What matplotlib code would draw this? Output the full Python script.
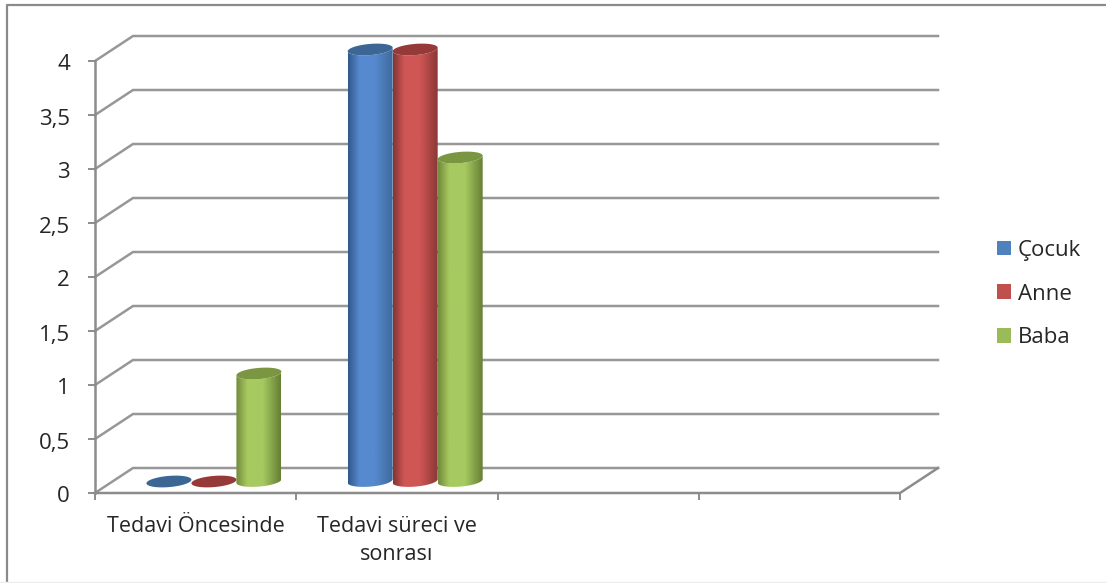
import numpy as np
import matplotlib
matplotlib.use("Agg")
import matplotlib.pyplot as plt
from matplotlib.colors import LinearSegmentedColormap
from matplotlib.lines import Line2D
from matplotlib.patches import Patch, Polygon
from matplotlib.transforms import IdentityTransform, ScaledTranslation

categories = ["Tedavi Öncesinde", "Tedavi süreci ve\nsonrası"]
series_names = ["Çocuk", "Anne", "Baba"]
cocuk = [0, 4]
anne = [0, 4]
baba = [1, 3]
y_ticks = [0, 0.5, 1, 1.5, 2, 2.5, 3, 3.5, 4]
y_labels = ["0", "0,5", "1", "1,5", "2", "2,5", "3", "3,5", "4"]
n_slots = 4

W, H = 1106, 583
FONT = "Open Sans"
TXT = "#262626"
GRID = "#979797"
AX = "#8c8c8c"
fig = plt.figure(figsize=(W / 100, H / 100), dpi=100, facecolor="white")
L, R, T, B = 95, 900, 61, 493
ax = fig.add_axes([L / W, 1 - B / H, (R - L) / W, (B - T) / H])
ax.patch.set_visible(False)
ax.set_xlim(0, n_slots)
ax.set_ylim(0, 4)

DX, DY = 38, 25   # depth of the 3-D box, pixels
identity = IdentityTransform()

def px(x, y):
    return ax.transData.transform((x, y))

# outer frame
fig.add_artist(Line2D([7 / W, 7 / W, 1], [0, 1 - 4.5 / H, 1 - 4.5 / H],
                      transform=fig.transFigure, color="#8a8a8a", lw=1.6))
fig.add_artist(Line2D([0, 1], [0.8 / H, 0.8 / H], transform=fig.transFigure,
                      color="#ececec", lw=1.0))

# wall grid
for v in y_ticks:
    x0, y0 = px(0, v)
    x1, _ = px(n_slots, v)
    ax.add_line(Line2D([x0, x0 + DX, x1 + DX], [y0, y0 + DY, y0 + DY], transform=identity,
                       color=GRID, lw=1.8, clip_on=False, zorder=1, solid_joinstyle="miter"))
x0, y0 = px(0, 0)
x1, y1 = px(n_slots, 0)
ax.add_line(Line2D([x0, x1, x1 + DX], [y0, y1, y1 + DY], transform=identity,
                   color=AX, lw=1.8, clip_on=False, zorder=1.5))

# cylinders
palette = [
    ("#30598a", "#5689cf", "#3f6a9a", "#3c6795"),
    ("#843432", "#cf5654", "#8a3836", "#953a38"),
    ("#728a3c", "#a6ca60", "#667f34", "#7a9640"),
]
series = [cocuk, anne, baba]
bar_w = 0.2236
A = (px(bar_w, 0)[0] - px(0, 0)[0]) / 2
b, k = 5.6, 1.8
t_low = np.linspace(np.pi, 2 * np.pi, 40)
t_all = np.linspace(0, 2 * np.pi, 80)

def arc(cx, cy, t):
    return np.column_stack([cx + A * np.cos(t), cy + b * np.sin(t) + k * np.cos(t)])

for i, (vals, pal) in enumerate(zip(series, palette)):
    cmap = LinearSegmentedColormap.from_list(
        f"c{i}", [(0, pal[0]), (0.25, pal[1]), (0.6, pal[1]), (1, pal[2])])
    for j, v in enumerate(vals):
        xc = j + 0.5 + (i - 1) * bar_w
        fx, fy0 = px(xc, 0)
        _, fy1 = px(xc, v)
        cx = fx + DX / 2 - 0.7
        cy0, cy1 = fy0 + 12, fy1 + 11.5
        z = 3 + i + j * 5
        if v > 0:
            outline = np.vstack([arc(cx, cy0, t_low), arc(cx, cy1, t_low[::-1])])
            clip = Polygon(outline, closed=True, transform=identity, fc="none", ec="none")
            ax.add_patch(clip)
            im = ax.imshow(np.linspace(0, 1, 128)[None, :], cmap=cmap, aspect="auto",
                           extent=(cx - A, cx + A, cy0 - b - 3, cy1 + b + 3),
                           transform=identity, zorder=z, interpolation="bilinear")
            im.set_clip_box(fig.bbox)
            im.set_clip_path(clip)
        ax.add_patch(Polygon(arc(cx, cy1, t_all), closed=True, transform=identity,
                             fc=pal[3], ec="none", zorder=z + 0.5, clip_on=False))
ax.set_xlim(0, n_slots)
ax.set_ylim(0, 4)

# axes, ticks
for s in ["top", "right", "bottom"]:
    ax.spines[s].set_visible(False)
ax.spines["left"].set_color(AX)
ax.spines["left"].set_linewidth(1.8)
ax.spines["left"].set_zorder(2)
ax.set_yticks(y_ticks, y_labels, family=FONT, fontsize=16, color=TXT)
ax.tick_params(axis="y", length=5, width=1.4, color=AX, pad=13)
shift = ScaledTranslation(0, -1.5 / 100, fig.dpi_scale_trans)
for lab in ax.get_yticklabels():
    lab.set_transform(lab.get_transform() + shift)
ax.set_xticks(range(n_slots + 1), [""] * (n_slots + 1))
ax.tick_params(axis="x", which="major", length=5, width=1.4, color=AX)
ax.set_xticks(np.arange(len(categories)) + 0.5, categories, minor=True,
              family=FONT, fontsize=15.5, color=TXT, linespacing=1.43)
ax.tick_params(axis="x", which="minor", length=0, pad=16.5)

# legend
colors = ["#4f81bd", "#c0504d", "#9bbb59"]
handles = [Patch(fc=c, ec="none", label=n) for c, n in zip(colors, series_names)]
fig.legend(handles=handles, loc="center left", bbox_to_anchor=(997 / W, 1 - 294 / H),
           frameon=False, borderpad=0, borderaxespad=0, handlelength=0.62, handleheight=0.62,
           handletextpad=0.32, labelspacing=1.03, labelcolor=TXT,
           prop={"family": FONT, "size": 16})

fig.savefig("out.png", dpi=100, facecolor="white")
